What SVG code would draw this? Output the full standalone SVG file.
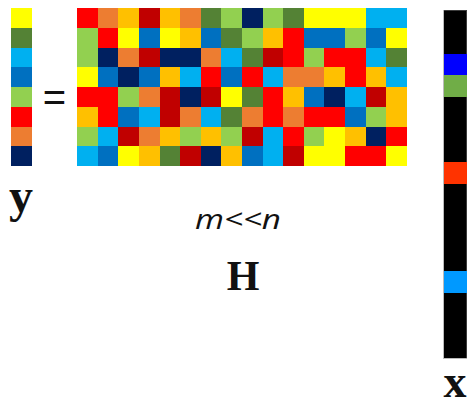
<svg xmlns="http://www.w3.org/2000/svg" width="468" height="400" viewBox="0 0 468 400">
<style>
rect{shape-rendering:crispEdges}
.R{fill:#FF0000}.O{fill:#ED7D31}.G{fill:#FFC000}.D{fill:#C00000}.Y{fill:#FFFF00}
.L{fill:#92D050}.E{fill:#548235}.N{fill:#002060}.B{fill:#0070C0}.C{fill:#00B0F0}
.lbl{font-family:"Liberation Serif","Times New Roman",serif;font-weight:bold;fill:#111}
</style>
<rect width="468" height="400" fill="#fff"/>
<g id="vector-y">
<rect class="Y" x="11.3" y="8" width="21" height="19.75"/>
<rect class="E" x="11.3" y="27.75" width="21" height="19.75"/>
<rect class="C" x="11.3" y="47.5" width="21" height="19.75"/>
<rect class="B" x="11.3" y="67.25" width="21" height="19.75"/>
<rect class="L" x="11.3" y="87" width="21" height="19.75"/>
<rect class="R" x="11.3" y="106.75" width="21" height="19.75"/>
<rect class="O" x="11.3" y="126.5" width="21" height="19.75"/>
<rect class="N" x="11.3" y="146.25" width="21" height="19.75"/>
</g>
<g id="equals">
<text x="54.5" y="111" text-anchor="middle" font-family="Liberation Sans, Arial, sans-serif" font-size="40" fill="#111">=</text>
</g>
<g id="matrix-H">
<g transform="translate(77.3,8)">
<!-- row 0 -->
<rect class="R" x="0" y="0" width="20.6" height="19.75"/><rect class="O" x="20.59" y="0" width="20.6" height="19.75"/><rect class="G" x="41.18" y="0" width="20.6" height="19.75"/><rect class="D" x="61.77" y="0" width="20.6" height="19.75"/><rect class="G" x="82.36" y="0" width="20.6" height="19.75"/><rect class="O" x="102.95" y="0" width="20.6" height="19.75"/><rect class="E" x="123.54" y="0" width="20.6" height="19.75"/><rect class="L" x="144.13" y="0" width="20.6" height="19.75"/><rect class="N" x="164.72" y="0" width="20.6" height="19.75"/><rect class="L" x="185.31" y="0" width="20.6" height="19.75"/><rect class="E" x="205.9" y="0" width="20.6" height="19.75"/><rect class="Y" x="226.49" y="0" width="20.6" height="19.75"/><rect class="Y" x="247.08" y="0" width="20.6" height="19.75"/><rect class="Y" x="267.67" y="0" width="20.6" height="19.75"/><rect class="C" x="288.26" y="0" width="20.6" height="19.75"/><rect class="C" x="308.85" y="0" width="20.6" height="19.75"/>
<!-- row 1 -->
<rect class="L" x="0" y="19.75" width="20.6" height="19.75"/><rect class="R" x="20.59" y="19.75" width="20.6" height="19.75"/><rect class="Y" x="41.18" y="19.75" width="20.6" height="19.75"/><rect class="B" x="61.77" y="19.75" width="20.6" height="19.75"/><rect class="Y" x="82.36" y="19.75" width="20.6" height="19.75"/><rect class="G" x="102.95" y="19.75" width="20.6" height="19.75"/><rect class="B" x="123.54" y="19.75" width="20.6" height="19.75"/><rect class="E" x="144.13" y="19.75" width="20.6" height="19.75"/><rect class="L" x="164.72" y="19.75" width="20.6" height="19.75"/><rect class="G" x="185.31" y="19.75" width="20.6" height="19.75"/><rect class="R" x="205.9" y="19.75" width="20.6" height="19.75"/><rect class="B" x="226.49" y="19.75" width="20.6" height="19.75"/><rect class="B" x="247.08" y="19.75" width="20.6" height="19.75"/><rect class="L" x="267.67" y="19.75" width="20.6" height="19.75"/><rect class="B" x="288.26" y="19.75" width="20.6" height="19.75"/><rect class="Y" x="308.85" y="19.75" width="20.6" height="19.75"/>
<!-- row 2 -->
<rect class="L" x="0" y="39.5" width="20.6" height="19.75"/><rect class="N" x="20.59" y="39.5" width="20.6" height="19.75"/><rect class="O" x="41.18" y="39.5" width="20.6" height="19.75"/><rect class="D" x="61.77" y="39.5" width="20.6" height="19.75"/><rect class="N" x="82.36" y="39.5" width="20.6" height="19.75"/><rect class="N" x="102.95" y="39.5" width="20.6" height="19.75"/><rect class="O" x="123.54" y="39.5" width="20.6" height="19.75"/><rect class="C" x="144.13" y="39.5" width="20.6" height="19.75"/><rect class="E" x="164.72" y="39.5" width="20.6" height="19.75"/><rect class="D" x="185.31" y="39.5" width="20.6" height="19.75"/><rect class="R" x="205.9" y="39.5" width="20.6" height="19.75"/><rect class="L" x="226.49" y="39.5" width="20.6" height="19.75"/><rect class="R" x="247.08" y="39.5" width="20.6" height="19.75"/><rect class="R" x="267.67" y="39.5" width="20.6" height="19.75"/><rect class="C" x="288.26" y="39.5" width="20.6" height="19.75"/><rect class="E" x="308.85" y="39.5" width="20.6" height="19.75"/>
<!-- row 3 -->
<rect class="Y" x="0" y="59.25" width="20.6" height="19.75"/><rect class="B" x="20.59" y="59.25" width="20.6" height="19.75"/><rect class="N" x="41.18" y="59.25" width="20.6" height="19.75"/><rect class="B" x="61.77" y="59.25" width="20.6" height="19.75"/><rect class="G" x="82.36" y="59.25" width="20.6" height="19.75"/><rect class="C" x="102.95" y="59.25" width="20.6" height="19.75"/><rect class="R" x="123.54" y="59.25" width="20.6" height="19.75"/><rect class="B" x="144.13" y="59.25" width="20.6" height="19.75"/><rect class="R" x="164.72" y="59.25" width="20.6" height="19.75"/><rect class="C" x="185.31" y="59.25" width="20.6" height="19.75"/><rect class="O" x="205.9" y="59.25" width="20.6" height="19.75"/><rect class="O" x="226.49" y="59.25" width="20.6" height="19.75"/><rect class="G" x="247.08" y="59.25" width="20.6" height="19.75"/><rect class="R" x="267.67" y="59.25" width="20.6" height="19.75"/><rect class="G" x="288.26" y="59.25" width="20.6" height="19.75"/><rect class="C" x="308.85" y="59.25" width="20.6" height="19.75"/>
<!-- row 4 -->
<rect class="R" x="0" y="79" width="20.6" height="19.75"/><rect class="R" x="20.59" y="79" width="20.6" height="19.75"/><rect class="L" x="41.18" y="79" width="20.6" height="19.75"/><rect class="O" x="61.77" y="79" width="20.6" height="19.75"/><rect class="D" x="82.36" y="79" width="20.6" height="19.75"/><rect class="N" x="102.95" y="79" width="20.6" height="19.75"/><rect class="D" x="123.54" y="79" width="20.6" height="19.75"/><rect class="Y" x="144.13" y="79" width="20.6" height="19.75"/><rect class="E" x="164.72" y="79" width="20.6" height="19.75"/><rect class="R" x="185.31" y="79" width="20.6" height="19.75"/><rect class="G" x="205.9" y="79" width="20.6" height="19.75"/><rect class="B" x="226.49" y="79" width="20.6" height="19.75"/><rect class="N" x="247.08" y="79" width="20.6" height="19.75"/><rect class="C" x="267.67" y="79" width="20.6" height="19.75"/><rect class="D" x="288.26" y="79" width="20.6" height="19.75"/><rect class="G" x="308.85" y="79" width="20.6" height="19.75"/>
<!-- row 5 -->
<rect class="G" x="0" y="98.75" width="20.6" height="19.75"/><rect class="R" x="20.59" y="98.75" width="20.6" height="19.75"/><rect class="B" x="41.18" y="98.75" width="20.6" height="19.75"/><rect class="C" x="61.77" y="98.75" width="20.6" height="19.75"/><rect class="D" x="82.36" y="98.75" width="20.6" height="19.75"/><rect class="O" x="102.95" y="98.75" width="20.6" height="19.75"/><rect class="C" x="123.54" y="98.75" width="20.6" height="19.75"/><rect class="E" x="144.13" y="98.75" width="20.6" height="19.75"/><rect class="O" x="164.72" y="98.75" width="20.6" height="19.75"/><rect class="R" x="185.31" y="98.75" width="20.6" height="19.75"/><rect class="O" x="205.9" y="98.75" width="20.6" height="19.75"/><rect class="R" x="226.49" y="98.75" width="20.6" height="19.75"/><rect class="R" x="247.08" y="98.75" width="20.6" height="19.75"/><rect class="B" x="267.67" y="98.75" width="20.6" height="19.75"/><rect class="L" x="288.26" y="98.75" width="20.6" height="19.75"/><rect class="G" x="308.85" y="98.75" width="20.6" height="19.75"/>
<!-- row 6 -->
<rect class="L" x="0" y="118.5" width="20.6" height="19.75"/><rect class="C" x="20.59" y="118.5" width="20.6" height="19.75"/><rect class="D" x="41.18" y="118.5" width="20.6" height="19.75"/><rect class="O" x="61.77" y="118.5" width="20.6" height="19.75"/><rect class="G" x="82.36" y="118.5" width="20.6" height="19.75"/><rect class="L" x="102.95" y="118.5" width="20.6" height="19.75"/><rect class="G" x="123.54" y="118.5" width="20.6" height="19.75"/><rect class="L" x="144.13" y="118.5" width="20.6" height="19.75"/><rect class="D" x="164.72" y="118.5" width="20.6" height="19.75"/><rect class="C" x="185.31" y="118.5" width="20.6" height="19.75"/><rect class="R" x="205.9" y="118.5" width="20.6" height="19.75"/><rect class="L" x="226.49" y="118.5" width="20.6" height="19.75"/><rect class="Y" x="247.08" y="118.5" width="20.6" height="19.75"/><rect class="G" x="267.67" y="118.5" width="20.6" height="19.75"/><rect class="N" x="288.26" y="118.5" width="20.6" height="19.75"/><rect class="R" x="308.85" y="118.5" width="20.6" height="19.75"/>
<!-- row 7 -->
<rect class="C" x="0" y="138.25" width="20.6" height="19.75"/><rect class="B" x="20.59" y="138.25" width="20.6" height="19.75"/><rect class="Y" x="41.18" y="138.25" width="20.6" height="19.75"/><rect class="G" x="61.77" y="138.25" width="20.6" height="19.75"/><rect class="E" x="82.36" y="138.25" width="20.6" height="19.75"/><rect class="D" x="102.95" y="138.25" width="20.6" height="19.75"/><rect class="N" x="123.54" y="138.25" width="20.6" height="19.75"/><rect class="G" x="144.13" y="138.25" width="20.6" height="19.75"/><rect class="B" x="164.72" y="138.25" width="20.6" height="19.75"/><rect class="C" x="185.31" y="138.25" width="20.6" height="19.75"/><rect class="D" x="205.9" y="138.25" width="20.6" height="19.75"/><rect class="Y" x="226.49" y="138.25" width="20.6" height="19.75"/><rect class="Y" x="247.08" y="138.25" width="20.6" height="19.75"/><rect class="R" x="267.67" y="138.25" width="20.6" height="19.75"/><rect class="R" x="288.26" y="138.25" width="20.6" height="19.75"/><rect class="Y" x="308.85" y="138.25" width="20.6" height="19.75"/>
</g>
</g>
<g id="vector-x">
<rect x="443.5" y="10" width="23" height="348" fill="#000" stroke="#777" stroke-width="0.5"/>
<rect x="443.5" y="53.5" width="23" height="21.75" fill="#0000FF"/>
<rect x="443.5" y="75.25" width="23" height="21.75" fill="#70AD47"/>
<rect x="443.5" y="162.25" width="23" height="21.75" fill="#FF3300"/>
<rect x="443.5" y="271" width="23" height="21.75" fill="#0099FF"/>
</g>
<g id="labels">
<text class="lbl" x="21" y="212" text-anchor="middle" font-size="48">y</text>
<text x="195" y="228.5" font-family="Open Sans, sans-serif" font-style="italic" font-size="28" fill="#111" textLength="86" lengthAdjust="spacingAndGlyphs">m&lt;&lt;n</text>
<text class="lbl" x="243" y="290" text-anchor="middle" font-size="42">H</text>
<text class="lbl" x="455" y="397" text-anchor="middle" font-size="46">x</text>
</g>
</svg>
